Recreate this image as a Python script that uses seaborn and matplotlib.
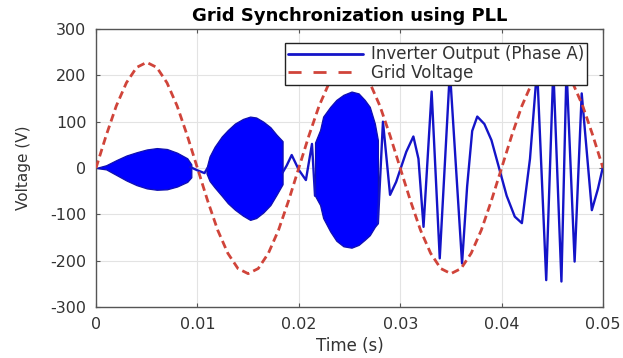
import numpy as np
import pandas as pd
import matplotlib
matplotlib.use("Agg")
import matplotlib.pyplot as plt
from matplotlib.lines import Line2D
import seaborn as sns

# ---------------- data ----------------
title = "Grid Synchronization using PLL"
x_label = "Time (s)"
y_label = "Voltage (V)"
series_labels = ["Inverter Output (Phase A)", "Grid Voltage"]

x_ticks = [0, 0.01, 0.02, 0.03, 0.04, 0.05]
x_tick_labels = ["0", "0.01", "0.02", "0.03", "0.04", "0.05"]
y_ticks = [-300, -200, -100, 0, 100, 200, 300]
y_tick_labels = ["-300", "-200", "-100", "0", "100", "200", "300"]

# grid voltage, sampled every 1 ms
grid_t = [round(0.001 * k, 4) for k in range(51)]
grid_v = [0, 70, 134, 184, 217, 228, 217, 184, 134, 70,
          0, -70, -134, -184, -217, -228, -217, -184, -134, -70,
          0, 70, 134, 184, 217, 228, 217, 184, 134, 70,
          0, -70, -134, -184, -217, -228, -217, -184, -134, -70,
          0, 70, 134, 184, 217, 228, 217, 184, 134, 70, 0]

# dense (fast-oscillating) parts of the inverter output: envelopes
blob1_t = [0.0, 0.001, 0.002, 0.003, 0.004, 0.005, 0.006, 0.007, 0.008, 0.009, 0.0094]
blob1_hi = [0, 6, 17, 27, 34, 40, 43, 41, 33, 21, 8]
blob1_lo = [0, -3, -15, -27, -37, -44, -47, -46, -40, -30, -20]

blob2_t = [0.0109, 0.0112, 0.0117, 0.0124, 0.0130, 0.0137, 0.0145, 0.0152,
           0.0158, 0.0165, 0.0172, 0.0178, 0.0184]
blob2_hi = [0, 25, 46, 68, 82, 96, 106, 111, 109, 100, 88, 72, 58]
blob2_lo = [-12, -28, -42, -60, -76, -90, -103, -112, -108, -96, -80, -58, -35]

blob3_t = [0.0216, 0.0221, 0.0224, 0.0231, 0.0237, 0.0244, 0.0252, 0.0259,
           0.0265, 0.0270, 0.0275, 0.0278]
blob3_hi = [55, 82, 111, 132, 147, 158, 165, 161, 147, 132, 96, 60]
blob3_lo = [-60, -80, -108, -137, -157, -169, -172, -166, -155, -145, -127, -119]

# thinner line parts of the inverter output
seg1_t = [0.0093, 0.0100, 0.0107, 0.0110]
seg1_v = [2, -5, -11, 0]
seg2_t = [0.0184, 0.0188, 0.0193, 0.0200, 0.0207, 0.0213, 0.0216]
seg2_v = [-10, 5, 28, -4, -26, 52, -60]
seg3_t = [0.0278, 0.0283, 0.0290, 0.0296, 0.0300, 0.0306, 0.0313, 0.0318,
          0.0323, 0.0331, 0.0339, 0.0349, 0.0361, 0.0366, 0.0371, 0.0376,
          0.0383, 0.0390, 0.0398, 0.0405, 0.0413, 0.0420, 0.0428, 0.0435,
          0.0444, 0.0451, 0.0459, 0.0464, 0.0472, 0.0479, 0.0489, 0.0495, 0.0500]
seg3_v = [-119, 100, -58, -30, -4, 35, 68, 20,
          -127, 165, -195, 210, -206, -40, 80, 111,
          95, 60, -4, -60, -105, -119, 20, 215,
          -242, 215, -245, 215, -202, 161, -91, -45, 3]

# ---------------- style ----------------
sns.set_theme(style="whitegrid")
plt.rcParams["font.family"] = ["DejaVu Sans"]
plt.rcParams["axes.unicode_minus"] = False

BLUE_LINE = "#1414c8"
BLUE_FILL = "#0000ff"
RED = "#d0443a"

fig = plt.figure(figsize=(6.23, 3.58), dpi=100)
fig.patch.set_facecolor("white")
ax = fig.add_axes([96 / 623, 1 - 307 / 358, 507 / 623, 278 / 358])
ax.set_facecolor("white")

# dense blobs
for bt, blo, bhi in [(blob1_t, blob1_lo, blob1_hi),
                     (blob2_t, blob2_lo, blob2_hi),
                     (blob3_t, blob3_lo, blob3_hi)]:
    ax.fill_between(bt, blo, bhi, facecolor=BLUE_FILL, edgecolor="#1010b0",
                    linewidth=0.9, zorder=2)

inv_df = pd.DataFrame({
    "t": seg1_t + seg2_t + seg3_t,
    "v": seg1_v + seg2_v + seg3_v,
    "seg": [1] * len(seg1_t) + [2] * len(seg2_t) + [3] * len(seg3_t),
})
sns.lineplot(data=inv_df, x="t", y="v", units="seg", estimator=None, sort=False,
             color=BLUE_LINE, linewidth=1.7, ax=ax, zorder=3, legend=False)

grid_df = pd.DataFrame({"t": grid_t, "v": grid_v})
sns.lineplot(data=grid_df, x="t", y="v", estimator=None, sort=False,
             color=RED, linewidth=2.0, linestyle=(0, (2.8, 1.6)),
             ax=ax, zorder=4, legend=False)

# axes
ax.set_xlim(0, 0.05)
ax.set_ylim(-300, 300)
ax.set_xticks(x_ticks)
ax.set_xticklabels(x_tick_labels)
ax.set_yticks(y_ticks)
ax.set_yticklabels(y_tick_labels)
ax.grid(True, color="#e3e3e3", linewidth=0.8)
for sp in ax.spines.values():
    sp.set_visible(True)
    sp.set_color("#555555")
    sp.set_linewidth(1.0)
ax.tick_params(axis="both", which="major", direction="in", length=3, width=0.8,
               color="#555555", labelcolor="#333333", labelsize=11.5,
               bottom=True, left=True, top=True, right=True,
               labelbottom=True, labelleft=True, labeltop=False, labelright=False)
ax.tick_params(axis="x", pad=7)
ax.tick_params(axis="y", pad=7)

ax.set_title(title, fontsize=13, fontweight="bold", color="black", pad=6)
ax.set_xlabel(x_label, fontsize=12, color="#333333", labelpad=4)
ax.set_ylabel(y_label, fontsize=11, color="#333333", labelpad=14)

handles = [Line2D([], [], color=BLUE_LINE, linewidth=2.0),
           Line2D([], [], color=RED, linewidth=2.0, linestyle=(0, (4.7, 4.3)))]
leg = ax.legend(handles, series_labels, loc="upper right",
                bbox_to_anchor=(0.968, 0.950), borderaxespad=0,
                frameon=True, fancybox=False, framealpha=1, edgecolor="#222222",
                fontsize=12, handlelength=4.5, handletextpad=0.5,
                labelspacing=0.05, borderpad=0.15)
leg.get_frame().set_linewidth(1.0)
for txt in leg.get_texts():
    txt.set_color("#333333")
leg.set_zorder(10)

fig.savefig("out.png", dpi=100, facecolor="white")
